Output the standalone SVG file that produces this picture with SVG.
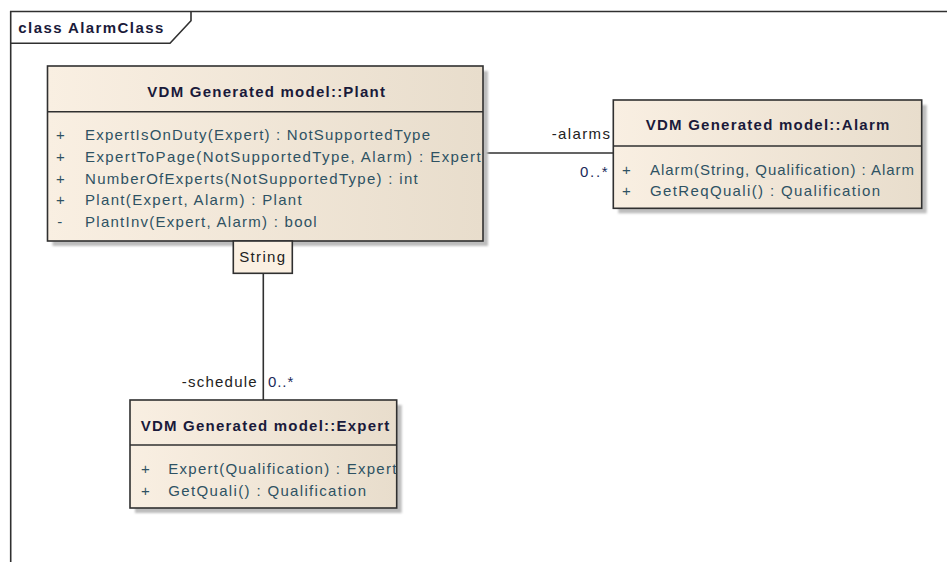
<svg xmlns="http://www.w3.org/2000/svg" width="947" height="562" viewBox="0 0 947 562">
<defs>
<linearGradient id="fill" x1="0" y1="0" x2="1" y2="0">
<stop offset="0" stop-color="#f9efe2"/>
<stop offset="1" stop-color="#e8ddcc"/>
</linearGradient>
<filter id="blur" x="-5%" y="-5%" width="110%" height="110%"><feGaussianBlur stdDeviation="1"/></filter>
<style>
.box{fill:url(#fill);stroke:#303030;stroke-width:1.6}
.sep{stroke:#303030;stroke-width:1.6}
.shadow{fill:#bdbdbd;filter:url(#blur)}
.title{font-family:"Liberation Sans",Arial,sans-serif;font-size:15px;font-weight:bold;fill:#1a1a3a}
.op{font-family:"Liberation Sans",Arial,sans-serif;font-size:15px;fill:#2e5263}
.lbl{font-family:"Liberation Sans",Arial,sans-serif;font-size:15px;fill:#222}
.mult{font-family:"Liberation Sans",Arial,sans-serif;font-size:15px;fill:#1a2a5a}
.line{stroke:#303030;stroke-width:1.6;fill:none}
</style>
</defs>
<rect width="947" height="562" fill="#ffffff"/>
<g id="frame">
<path class="line" d="M10.7,562 V11.5 H947"/>
<path class="line" d="M10.7,43.3 H170 L191,20.7 V11.5"/>
<text class="title" x="18.3" y="33" textLength="145" lengthAdjust="spacing">class AlarmClass</text>
</g>
<g id="connectors">
<line class="line" x1="483" y1="153" x2="613.3" y2="153"/>
<line class="line" x1="263.3" y1="273.3" x2="263.3" y2="400"/>
<text class="lbl" x="551.7" y="139" textLength="58.3" lengthAdjust="spacing">-alarms</text>
<text class="mult" x="580" y="176.5" textLength="27.7" lengthAdjust="spacing">0..*</text>
<text class="lbl" x="181.7" y="387" textLength="75" lengthAdjust="spacing">-schedule</text>
<text class="mult" x="268" y="387" textLength="25.3" lengthAdjust="spacing">0..*</text>
</g>
<g id="plant">
<rect class="shadow" x="52.5" y="71" width="435.5" height="175"/>
<rect class="box" x="47.5" y="66" width="435.5" height="175"/>
<line class="sep" x1="47.5" y1="111.7" x2="483" y2="111.7"/>
<text class="title" x="147.3" y="97" textLength="237.7" lengthAdjust="spacing">VDM Generated model::Plant</text>
<text class="op" x="56" y="140">+</text>
<text class="op" x="85" y="140" textLength="345" lengthAdjust="spacing">ExpertIsOnDuty(Expert) : NotSupportedType</text>
<text class="op" x="56" y="161.8">+</text>
<text class="op" x="85" y="161.8" textLength="395.7" lengthAdjust="spacing">ExpertToPage(NotSupportedType, Alarm) : Expert</text>
<text class="op" x="56" y="183.6">+</text>
<text class="op" x="85" y="183.6" textLength="332.7" lengthAdjust="spacing">NumberOfExperts(NotSupportedType) : int</text>
<text class="op" x="56" y="205.4">+</text>
<text class="op" x="85" y="205.4" textLength="216.7" lengthAdjust="spacing">Plant(Expert, Alarm) : Plant</text>
<text class="op" x="57.3" y="227.2">-</text>
<text class="op" x="85" y="227.2" textLength="231.7" lengthAdjust="spacing">PlantInv(Expert, Alarm) : bool</text>
</g>
<g id="string">
<rect x="233.3" y="241" width="59" height="32.3" fill="#fbf0e2" stroke="#303030" stroke-width="1.6"/>
<text class="lbl" x="239.3" y="262" textLength="45.7" lengthAdjust="spacing">String</text>
</g>
<g id="alarm">
<rect class="shadow" x="618.3" y="105" width="308.4" height="108.3"/>
<rect class="box" x="613.3" y="100" width="308.4" height="108.3"/>
<line class="sep" x1="613.3" y1="146" x2="921.7" y2="146"/>
<text class="title" x="645.7" y="130" textLength="243.6" lengthAdjust="spacing">VDM Generated model::Alarm</text>
<text class="op" x="622" y="175">+</text>
<text class="op" x="650" y="175" textLength="264" lengthAdjust="spacing">Alarm(String, Qualification) : Alarm</text>
<text class="op" x="622" y="195.7">+</text>
<text class="op" x="650" y="195.7" textLength="230" lengthAdjust="spacing">GetReqQuali() : Qualification</text>
</g>
<g id="expert">
<rect class="shadow" x="135" y="405" width="266.7" height="108"/>
<rect class="box" x="130" y="400" width="266.7" height="108"/>
<line class="sep" x1="130" y1="445" x2="396.7" y2="445"/>
<text class="title" x="140.7" y="430.5" textLength="248.6" lengthAdjust="spacing">VDM Generated model::Expert</text>
<text class="op" x="141" y="474">+</text>
<text class="op" x="168.3" y="474" textLength="228" lengthAdjust="spacing">Expert(Qualification) : Expert</text>
<text class="op" x="141" y="496">+</text>
<text class="op" x="168.3" y="496" textLength="197.7" lengthAdjust="spacing">GetQuali() : Qualification</text>
</g>
</svg>
